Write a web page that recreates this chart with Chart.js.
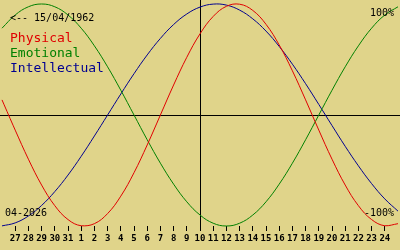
<!DOCTYPE html>
<html>
<head>
<meta charset="utf-8">
<script src="https://cdn.jsdelivr.net/npm/chart.js@4"></script>
<style>
  html, body { margin: 0; padding: 0; background: #e0d48a; }
  #wrap { width: 400px; height: 250px; }
</style>
</head>
<body>
<div id="wrap"><canvas id="chart" width="400" height="250"></canvas></div>
<script>
// day labels, x = 1..29 (x = 0 and x = 30 are the partial days at the edges)
const dayLabels = [27, 28, 29, 30, 31, 1, 2, 3, 4, 5, 6, 7, 8, 9, 10, 11, 12, 13, 14, 15, 16, 17, 18, 19, 20, 21, 22, 23, 24];
const todayX = 15; // 10th of April

// curve values, x = 0..30
const physical = [0.136, -0.136, -0.398, -0.631, -0.817, -0.942, -0.998, -0.979, -0.888, -0.731, -0.520,
  -0.270, 0, 0.270, 0.520, 0.731, 0.888, 0.979, 0.998, 0.942, 0.817, 0.631, 0.398, 0.136, -0.136,
  -0.398, -0.631, -0.817, -0.942, -0.998, -0.979];
const emotional = [0.782, 0.901, 0.975, 1, 0.975, 0.901, 0.782, 0.623, 0.434, 0.223, 0, -0.223, -0.434,
  -0.623, -0.782, -0.901, -0.975, -1, -0.975, -0.901, -0.782, -0.623, -0.434, -0.223, 0, 0.223, 0.434,
  0.623, 0.782, 0.901, 0.975];
const intellectual = [-0.999, -0.972, -0.910, -0.815, -0.690, -0.541, -0.372, -0.189, 0, 0.189, 0.372,
  0.541, 0.690, 0.815, 0.910, 0.972, 0.999, 0.990, 0.945, 0.866, 0.756, 0.618, 0.458, 0.282, 0.095,
  -0.095, -0.282, -0.458, -0.618, -0.756, -0.866];

const toPoints = (arr) => arr.map((v, i) => ({ x: i, y: v }));

const mono = '"DejaVu Sans Mono", "Liberation Mono", monospace';

// axis lines + captions
const overlay = {
  id: "overlay",
  beforeDatasetsDraw(chart) {
    const { ctx, scales } = chart;
    const x = scales.x, y = scales.y;
    ctx.save();
    ctx.strokeStyle = "#000";
    ctx.lineWidth = 1;
    const y0 = Math.round(y.getPixelForValue(0)) + 0.5;
    ctx.beginPath();
    ctx.moveTo(0, y0);
    ctx.lineTo(chart.width, y0);
    const xt = Math.round(x.getPixelForValue(todayX)) + 0.5;
    ctx.moveTo(xt, 0);
    ctx.lineTo(xt, y.bottom + 5);
    ctx.stroke();
    ctx.restore();
  },
  afterDatasetsDraw(chart) {
    const { ctx } = chart;
    ctx.save();
    ctx.textBaseline = "alphabetic";
    ctx.font = "10px " + mono;
    ctx.fillStyle = "#000";
    ctx.textAlign = "left";
    ctx.fillText("<-- 15/04/1962", 10, 21);
    ctx.fillText("04-2026", 5, 216);
    ctx.textAlign = "right";
    ctx.fillText("100%", 394, 16);
    ctx.fillText("-100%", 394, 216);

    ctx.textAlign = "left";
    ctx.font = "13px " + mono;
    ctx.fillStyle = "#e00000";
    ctx.fillText("Physical", 10, 42);
    ctx.fillStyle = "#008000";
    ctx.fillText("Emotional", 10, 57);
    ctx.fillStyle = "#000090";
    ctx.fillText("Intellectual", 10, 72);
    ctx.restore();
  }
};

const line = (data, color) => ({
  data: toPoints(data),
  borderColor: color,
  borderWidth: 1,
  pointRadius: 0,
  tension: 0.4,
  clip: false
});

new Chart(document.getElementById("chart"), {
  type: "line",
  data: {
    datasets: [
      line(physical, "#e00000"),
      line(emotional, "#008000"),
      line(intellectual, "#000090")
    ]
  },
  options: {
    responsive: false,
    animation: false,
    layout: { padding: 0 },
    plugins: { legend: { display: false }, tooltip: { enabled: false } },
    scales: {
      x: {
        type: "linear",
        min: 0,
        max: 30,
        afterFit: (axis) => { axis.height = 24; },
        border: { display: false },
        grid: {
          drawOnChartArea: false,
          tickLength: 5,
          tickColor: (c) => (c.tick && c.tick.value > 0 && c.tick.value < 30 ? "#000" : "rgba(0,0,0,0)")
        },
        ticks: {
          stepSize: 1,
          autoSkip: false,
          maxRotation: 0,
          padding: 2,
          color: "#000",
          font: { family: mono, size: 9, weight: "bold" },
          callback: (v) => (v >= 1 && v <= 29 ? String(dayLabels[v - 1]) : "")
        }
      },
      y: {
        display: false,
        min: -1.0,
        max: 1.036
      }
    }
  },
  plugins: [overlay]
});
</script>
</body>
</html>
